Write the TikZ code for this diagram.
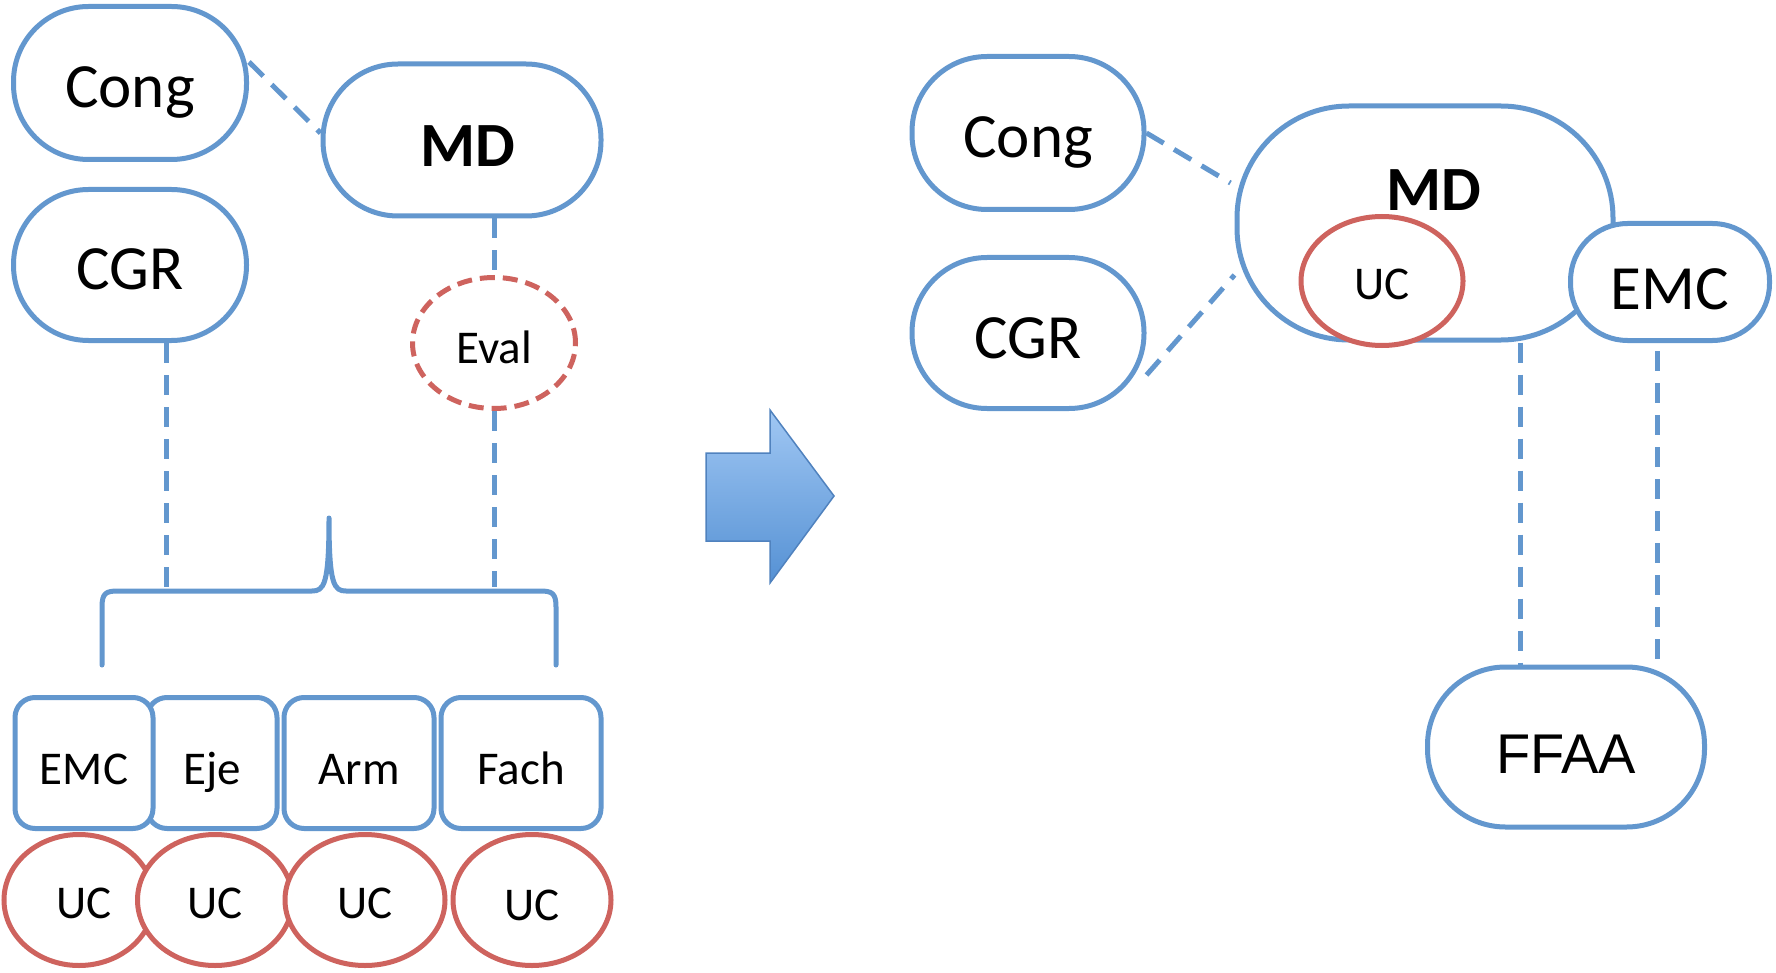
\documentclass[tikz,border=0pt]{standalone}
\usepackage{fontspec}
\setmainfont{Carlito}
\newfontfamily\arialfont{Liberation Sans}
\usetikzlibrary{shapes.geometric}

\definecolor{cblue}{RGB}{99,151,206}
\definecolor{cred}{RGB}{206,99,94}
\definecolor{arrtop}{RGB}{160,199,243}
\definecolor{arrbot}{RGB}{85,145,212}
\definecolor{arredge}{RGB}{80,130,190}

\newcommand{\bigtxt}{\fontsize{63}{70}\selectfont}
\newcommand{\smalltxt}{\fontsize{47}{54}\selectfont}

\tikzset{
  % baseline sits #1/2 below the node centre
  base/.style={text height=#1, text depth=0pt},
  pill/.style={draw=cblue, line width=5pt, fill=white, rounded corners=#1,
    inner sep=0pt, font=\bigtxt},
  box/.style={draw=cblue, line width=5pt, fill=white, rounded corners=20pt,
    inner sep=0pt, minimum height=131pt, font=\smalltxt, base=42pt},
  ucell/.style={ellipse, draw=cred, line width=5pt, fill=white, inner sep=0pt,
    minimum height=131pt, font=\smalltxt, base=36pt},
  link/.style={draw=cblue, line width=5pt, dash pattern=on 20pt off 12pt},
  bracestroke/.style={draw=cblue, line width=5pt, line cap=round, line join=round},
}

\begin{document}
\begin{tikzpicture}[x=1pt, y=-1pt]
\useasboundingbox (0,0) rectangle (1776,973);

% ---------- left: current organisation ----------
\node[pill=75pt, minimum width=233pt, minimum height=153pt, base=50pt] (congL) at (130,83) {Cong};
\node[pill=75pt, minimum width=278pt, minimum height=152pt, base=54pt] (mdL) at (462,140) {\hspace*{12pt}\textbf{MD}};
\node[pill=75pt, minimum width=233pt, minimum height=151pt, base=50pt] (cgrL) at (130,265) {CGR};
\node[ellipse, draw=cred, line width=5pt, fill=white, dash pattern=on 15pt off 8pt,
      minimum width=163pt, minimum height=131pt, inner sep=0pt, font=\smalltxt, base=40pt]
      (eval) at (494,343) {Eval};

% bottom row: units and their UC
\node[ucell, minimum width=150pt] (uc1) at (79,900) {\hspace*{10pt}UC};
\node[ucell, minimum width=155pt] (uc2) at (215,900) {UC};
\node[ucell, minimum width=160pt] (uc3) at (365,900) {UC};
\node[ucell, minimum width=158pt, base=40pt] (uc4) at (532,900) {UC};

\node[box, minimum width=160pt] (fach) at (521,763) {Fach};
\node[box, minimum width=150pt] (arm) at (359,763) {Arm};
\node[box, minimum width=130pt] (eje) at (212,763) {Eje};
\node[box, minimum width=138pt] (emcL) at (84,763) {EMC};

% brace over the units
\coordinate (brL) at (166,587);
\coordinate (brR) at (494,587);
\draw[bracestroke] (102,665) -- (102,607)
  .. controls (102,593) and (106,591) .. (118,591) -- (312,591)
  .. controls (324,591) and (329,585) .. (329,518)
  .. controls (329,585) and (334,591) .. (346,591) -- (540,591)
  .. controls (552,591) and (556,593) .. (556,607) -- (556,665);

% dashed links, left
\draw[link] ([yshift=21pt]congL.east) -- ([yshift=7pt]mdL.west);
\draw[link] (cgrL.south -| brL) -- (brL);
\draw[link] (mdL.south -| eval.north) -- (eval.north);
\draw[link] (eval.south) -- (brR);

% ---------- transition arrow ----------
\path[draw=arredge, line width=1.5pt, top color=arrtop, bottom color=arrbot, line join=miter]
  (706,453) -- (770,453) -- (770,410) -- (834,496) -- (770,583) -- (770,541) -- (706,541) -- cycle;

% ---------- right: proposed organisation ----------
\node[pill=75pt, minimum width=232pt, minimum height=153pt, base=50pt] (congR) at (1028,133) {Cong};
\node[pill=75pt, minimum width=232pt, minimum height=151pt, base=50pt] (cgrR) at (1028,333) {CGR};
\node[pill=112pt, minimum width=376pt, minimum height=234pt] (mdR) at (1425,223) {};
\node[font=\bigtxt, inner sep=0pt] (mdRtxt) at (1434,190) {\textbf{MD}};
\node[ucell, minimum width=162pt, minimum height=129pt, base=38pt] (ucR) at (1382,281) {UC};
\node[pill=57pt, minimum width=199pt, minimum height=117pt, base=54pt] (emcR) at (1670,282) {EMC};
\node[pill=78pt, minimum width=277pt, minimum height=160pt, base=52pt,
      font=\arialfont\fontsize{56}{64}\selectfont] (ffaa) at (1566,747) {FFAA};

\coordinate (xa) at (1520,0);
\coordinate (xb) at (1657,0);
\draw[link] (congR.east) -- ([shift={(-4pt,40pt)}]mdR.west);
\draw[link] ([yshift=-42pt]cgrR.east) -- ([yshift=-52pt]mdR.west);
\draw[link] (mdR.south -| xa) -- (ffaa.north -| xa);
\draw[link, shorten <=8pt] (emcR.south -| xb) -- (ffaa.north -| xb);
\end{tikzpicture}
\end{document}
